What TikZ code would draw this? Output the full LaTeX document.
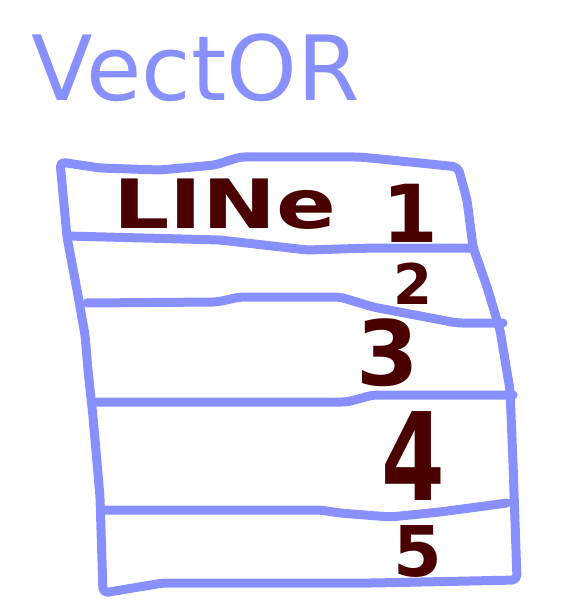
\documentclass[tikz,border=0pt]{standalone}
\usepackage{fontspec}
\usepackage{xcolor}
\usepackage{tikz}
\newfontfamily\inkfont{DejaVu Sans}
\definecolor{sketchblue}{HTML}{8890FF}
\definecolor{inkred}{HTML}{4A0000}

\begin{document}
\begin{tikzpicture}[
    x=1pt, y=-1pt,
    pen/.style={draw=sketchblue, line width=9pt, line cap=round,
                line join=round, rounded corners=5pt},
    ink/.style={text=inkred, inner sep=0pt, anchor=base,
                font=\inkfont\bfseries\fontsize{#1}{#1}\selectfont},
    heading/.style={text=sketchblue, inner sep=0pt, anchor=base,
                    font=\inkfont\fontsize{90}{90}\selectfont},
  ]
  \useasboundingbox (0,0) rectangle (578,609);

  \node[heading] (title) at (196,101) {VectOR};

  % frame and row separators
  \draw[pen] (60,162) -- (100,168) -- (160,170) -- (215,165) -- (240,157)
    -- (360,157) -- (420,163) -- (458,167) -- (467,200) -- (473,247)
    -- (487,287) -- (500,330) -- (510,390) -- (513,463) -- (517,580)
    -- (373,583) -- (163,583) -- (103,593) -- (100,497) -- (93,417)
    -- (88,370) -- (85,335) -- (77,290) -- (67,237) -- cycle;
  \draw[pen] (67,236) -- (220,240) -- (307,250) -- (373,248) -- (473,248);
  \draw[pen] (87,303) -- (217,302) -- (240,297) -- (340,297) -- (373,307)
    -- (457,323) -- (503,323);
  \draw[pen] (97,402) -- (347,402) -- (373,395) -- (513,395);
  \draw[pen] (103,510) -- (320,510) -- (340,513) -- (390,517) -- (440,512)
    -- (507,503);

  \node[ink=68, xscale=1.3, transform shape] (line) at (225,229) {LINe};
  \node[ink=80] (one) at (410,242) {1};
  \node[ink=56] (two) at (413,304) {2};
  \node[ink=90] (three) at (388,385) {3};
  \node[ink=122, xscale=0.75, transform shape] (four) at (413,500) {4};
  \node[ink=70] (five) at (418,576) {5};
\end{tikzpicture}
\end{document}
